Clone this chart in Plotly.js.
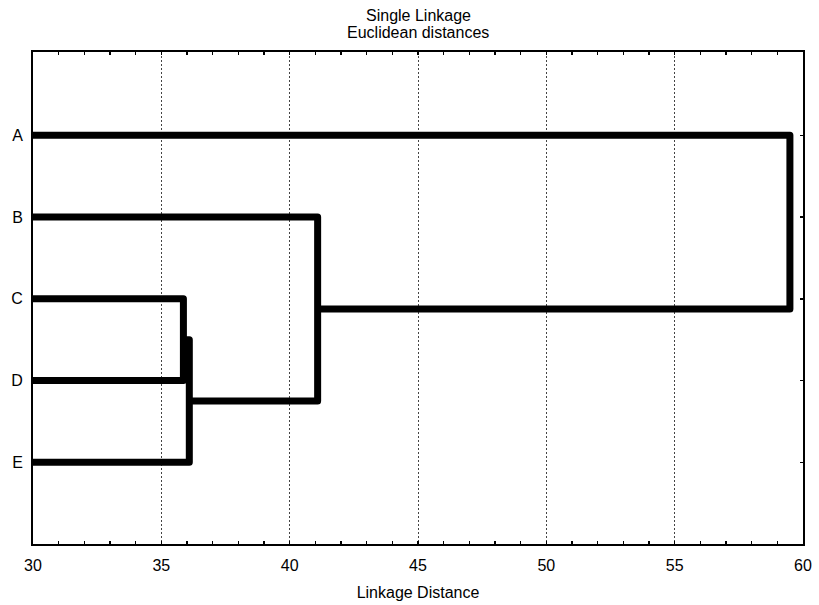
<!DOCTYPE html>
<html>
<head>
<meta charset="utf-8">
<script src="https://cdn.plot.ly/plotly-3.0.1.min.js"></script>
<style>
  html, body { margin: 0; padding: 0; background: #fff; }
  #chart { width: 819px; height: 605px; }
  .js-line { stroke-linejoin: round; }
</style>
</head>
<body>
<div id="chart"></div>
<script>
// Leaves, top to bottom
const leaves = ['A', 'B', 'C', 'D', 'E'];

// Single-linkage merge steps: left child, right child, linkage distance
const mergeLeft = ['C', 'm1', 'B', 'A'];
const mergeRight = ['D', 'E', 'm2', 'm3'];
const mergeDistance = [35.86, 36.09, 41.09, 59.49];

// X axis ticks
const xTickVals = [30, 35, 40, 45, 50, 55, 60];

// Chart heading, one entry per line
const titleLines = ['Single Linkage', 'Euclidean distances'];

const baseDistance = 30;

// Node positions: leaves sit on the baseline, merge nodes at their distance
const nodeX = {};
const nodeY = {};
leaves.forEach((name, i) => { nodeX[name] = baseDistance; nodeY[name] = i + 1; });

const traces = [];
mergeDistance.forEach((d, k) => {
  const l = mergeLeft[k], r = mergeRight[k];
  traces.push({
    type: 'scatter',
    mode: 'lines',
    x: [nodeX[l], d, d, nodeX[r]],
    y: [nodeY[l], nodeY[l], nodeY[r], nodeY[r]],
    line: { color: '#000', width: 7 },
    hoverinfo: 'skip',
    showlegend: false
  });
  const id = 'm' + (k + 1);
  nodeX[id] = d;
  nodeY[id] = (nodeY[l] + nodeY[r]) / 2;
});

// Two heading lines set close together above the plot area
const plotTop = 52, plotH = 605 - 52 - 61;
const headingCenters = [16, 32];
const annotations = titleLines.map((t, i) => ({
  text: t,
  xref: 'paper', yref: 'paper',
  x: 0.5, xanchor: 'center',
  y: 1 + (plotTop - headingCenters[i]) / plotH, yanchor: 'middle',
  showarrow: false,
  font: { size: 16, color: '#000' }
}));

const layout = {
  width: 819,
  height: 605,
  margin: { l: 33, r: 16, t: plotTop, b: 61 },
  paper_bgcolor: '#fff',
  plot_bgcolor: '#fff',
  font: { family: 'Liberation Sans, Arial, sans-serif', color: '#000', size: 16 },
  annotations: annotations,
  xaxis: {
    range: [30, 60],
    tickvals: xTickVals,
    ticktext: xTickVals.map(String),
    ticks: 'inside', ticklen: 3, tickwidth: 1.5, tickcolor: '#000',
    minor: { dtick: 1, ticks: 'inside', ticklen: 3, tickwidth: 1.5, tickcolor: '#000', showgrid: false },
    showgrid: true, gridcolor: '#444', gridwidth: 1, griddash: '2px,2px',
    showline: true, linecolor: '#000', linewidth: 2, mirror: 'ticks',
    zeroline: false,
    tickfont: { size: 16 },
    ticklabelstandoff: 6,
    title: { text: 'Linkage Distance', font: { size: 16 }, standoff: 14 }
  },
  yaxis: {
    range: [6.0, -0.02],
    tickvals: leaves.map((_, i) => i + 1),
    ticktext: leaves,
    ticks: 'inside', ticklen: 3, tickwidth: 1.5, tickcolor: '#000',
    showgrid: false,
    showline: true, linecolor: '#000', linewidth: 2, mirror: 'ticks',
    zeroline: false,
    tickfont: { size: 16 },
    ticklabelstandoff: 5
  }
};

Plotly.newPlot('chart', traces, layout, { displayModeBar: false, staticPlot: true });
</script>
</body>
</html>
